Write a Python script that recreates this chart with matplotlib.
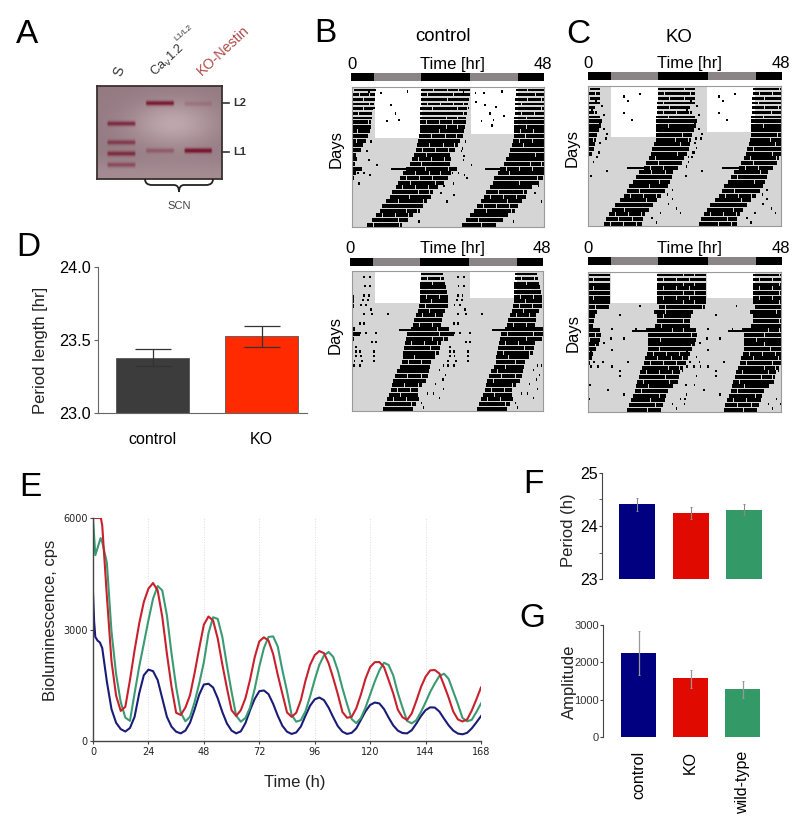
import numpy as np
import matplotlib
matplotlib.use("Agg")
import matplotlib.pyplot as plt
from matplotlib.path import Path
from matplotlib.patches import PathPatch

plt.rcParams['font.family'] = ['Liberation Sans', 'DejaVu Sans']
W, H = 800, 831

# ---------- panel D
D_GROUPS = ['control', 'KO']
D_VALUES = [23.38, 23.525]
D_LOW = [23.32, 23.455]
D_HIGH = [23.44, 23.595]

# ---------- panel E
TIME_H = list(range(4, 169, 2))
RED_T = [0, 2, 3.4]
RED_START = [6000, 6000, 6000]
RED = [5800, 3900, 2150, 1220, 810, 920, 1640, 2440, 3160, 3740, 4100, 4250, 4050, 3340, 2350, 1460, 760,
       700, 900, 1230, 1830, 2500, 3130, 3350, 3240, 2760, 2060, 1420, 830, 675,
       830, 1150, 1650, 2250, 2680, 2790, 2700, 2340, 1780, 1270, 770, 650,
       760, 1100, 1620, 2050, 2310, 2420, 2365, 2095, 1695, 1260, 780, 625,
       650, 880, 1250, 1680, 1990, 2120, 2125, 1990, 1640, 1280, 840, 640, 565,
       740, 1080, 1450, 1730, 1900, 1910, 1815, 1500, 1165, 790, 580, 525, 580, 820, 1120, 1440]
GREEN_T = [0, 0.5, 1, 2, 3.3]
GREEN_START = [6000, 5500, 5000, 5200, 5460]
GREEN = [5350, 4800, 2950, 1800, 1050, 630, 540, 1280, 2000, 2620, 3250, 3830, 4170,
         4050, 3380, 2350, 1460, 760, 530, 650, 1050, 1550, 2120, 2900, 3330,
         3285, 2800, 2030, 1320, 680, 520, 620, 900, 1400, 2000, 2500, 2800,
         2815, 2540, 1905, 1340, 700, 520, 560, 800, 1200, 1650, 2050, 2300, 2395,
         2265, 1900, 1420, 995, 590, 480, 620, 900, 1250, 1600, 1900, 2105,
         2045, 1765, 1290, 900, 540, 475, 560, 780, 1040, 1320, 1550, 1750,
         1810, 1670, 1330, 990, 620, 530, 570, 780, 1010]
BLUE_T = [0, 0.5, 1, 2, 3]
BLUE_START = [4000, 3200, 2800, 2700, 2650]
BLUE = [2500, 1600, 860, 490, 320, 255, 350, 650, 1280, 1770, 1920, 1880, 1640, 1145, 650, 385, 250, 205,
        280, 490, 850, 1250, 1520, 1540, 1440, 1150, 780, 470, 280, 205,
        260, 480, 830, 1130, 1340, 1360, 1260, 1000, 680, 410, 250, 190,
        230, 390, 680, 950, 1120, 1170, 1100, 900, 640, 400, 250, 190,
        220, 340, 570, 800, 970, 1035, 1010, 860, 630, 420, 280, 215, 205,
        290, 470, 670, 830, 905, 900, 790, 600, 420, 280, 200, 180, 220, 340, 500, 670]

# ---------- panels F, G
GROUPS = ['control', 'KO', 'wild-type']
F_VALUES = [24.41, 24.24, 24.31]
F_LOW = [24.29, 24.13, 24.20]
F_HIGH = [24.53, 24.35, 24.42]
G_VALUES = [2245, 1567, 1282]
G_LOW = [1650, 1310, 1040]
G_HIGH = [2840, 1790, 1505]

# ---------- panel A
S_BANDS = [370, 427, 461, 495]
LANE2_BANDS = [308, 452]
LANE3_BANDS = [310, 452]
S_STRENGTH = [0.85, 0.7, 0.85, 0.55]
LANE2_STRENGTH = [1.0, 0.4]
LANE3_STRENGTH = [0.2, 1.15]

# ---------- actograms: one row per day, activity onset and offset in hours
B1_ON = [17.3, 17.3, 17.2, 17.2, 17.1, 17.1, 17.0, 17.0, 17.0, 16.9, 16.8, 16.6, 16.3, 16.0, 15.6, 15.0, 14.4, 13.4,
         12.8, 12.0, 11.6, 11.0, 10.0, 9.4, 8.6, 7.6, 7.0, 6.0, 5.0, 3.8]
B1_OFF = [29.7, 29.6, 29.4, 29.2, 29.0, 28.8, 28.7, 28.6, 28.4, 28.2, 27.8, 27.2, 26.6, 26.0, 24.7, 25.0, 24.6, 26.3,
          24.8, 24.2, 23.2, 21.6, 20.3, 20.0, 19.0, 18.0, 17.2, 15.5, 14.2, 12.6]
B2_ON = [17.3, 17.3, 17.2, 17.2, 17.1, 17.1, 17.0, 16.9, 16.5, 16.1, 15.6, 15.3, 14.8, 13.9, 13.6, 13.3, 13.1, 12.9,
         12.7, 12.5, 12.0, 11.4, 10.9, 10.4, 10.1, 9.8, 9.2, 8.8, 8.3, 7.9]
B2_OFF = [23.1, 23.3, 23.5, 23.8, 24.0, 24.2, 24.2, 24.2, 23.5, 22.9, 22.7, 22.5, 24.6, 25.8, 24.2, 22.5, 22.3, 22.1,
          21.0, 20.0, 19.8, 19.6, 19.2, 18.8, 17.8, 16.7, 16.8, 16.9, 16.2, 15.4]
C1_ON = [17.4, 17.4, 17.3, 17.2, 17.2, 17.1, 17.0, 17.0, 17.0, 17.0, 16.9, 16.8, 16.4, 16.0, 15.6, 15.2, 14.5, 13.9,
         12.7, 12.0, 11.2, 10.3, 9.8, 8.9, 7.9, 6.8, 6.0, 5.2, 4.5, 3.9]
C1_OFF = [26.8, 26.8, 26.7, 26.8, 25.6, 26.0, 26.8, 27.2, 27.0, 26.5, 26.0, 25.8, 25.6, 25.2, 24.8, 24.0, 23.5, 22.5,
          21.4, 21.0, 20.6, 20.0, 19.3, 18.2, 17.2, 16.2, 15.2, 14.4, 13.7, 13.5]
C2_ON = [17.1, 17.1, 17.1, 17.1, 17.1, 17.1, 17.1, 17.7, 16.3, 17.2, 17.1, 16.7, 14.4, 15.0, 15.0, 15.0, 14.8, 14.6,
         14.2, 13.9, 13.4, 12.9, 12.6, 12.2, 12.0, 11.7, 11.1, 10.6, 10.2, 9.8]
C2_OFF = [29.6, 29.6, 29.6, 29.6, 29.5, 29.5, 29.4, 29.2, 26.3, 25.8, 25.6, 25.4, 27.0, 27.2, 27.0, 26.7, 26.0, 25.4,
          25.0, 24.6, 23.8, 23.0, 22.8, 22.5, 21.2, 20.0, 19.6, 19.2, 18.8, 18.3]

B1_SPOT_H = [4.3, 5.5, 7.3, 9.7, 13.9, 10.9, 11.8, 8.8, 4.8, 4.3, 1.5, 3.0, 4.5, 1.8, 6.3, 3.8, 28, 27.6, 28.8, 23, 23.8,
             25.5, 22.2, 15.5, 16.8, 1, 0.5, 2.5, 33, 36, 38, 31, 35]
B1_SPOT_R = [0.7, 4.3, 1, 3.6, 0.7, 5.4, 6.8, 7.1, 11.4, 15.4, 18.2, 18.2, 18.6, 20.4, 16.4, 13.4, 14.6, 12.9, 19.3, 21, 24.3,
             22.9, 22.5, 25.4, 28.6, 10, 15, 12, 1, 4, 6, 3, 8]
B2_SPOT_H = [3, 4.5, 3.2, 4.6, 3, 4.2, 0.3, 2.8, 4, 0.3, 2.2, 3.5, 4.8, 3, 5, 2, 3, 0.5, 2, 3.5, 6, 5, 1, 6, 1, 2, 5.5, 1, 2.2,
             5.5, 0.6, 2.5, 5.5, 0.5, 2, 23, 24, 22, 22.8, 23.5, 21, 23, 20.5, 22, 17.5, 18, 19, 9]
B2_SPOT_R = [1, 1, 3, 3, 5, 5, 6, 6, 6, 7, 7, 7, 8, 9, 9, 11, 11, 13, 13, 13, 13, 15, 16, 15, 17, 17, 17, 18, 18,
             18, 19, 19, 19, 20, 20, 20, 20, 21, 23, 22, 24, 25, 26, 27, 28, 29, 26, 9]
C1_SPOT_H = [2, 3.5, 1, 4, 1, 2.5, 3, 4, 1, 4.8, 1, 4.5, 3, 2.7, 2.2, 1.4, 4.8, 0.8, 27, 27.5, 26.8, 27, 26, 25, 24.5, 21,
             19.8, 21, 22, 23, 20, 18, 17, 16, 9, 10, 9, 11, 13]
C1_SPOT_R = [3, 4, 5, 6, 7, 7, 8, 9, 9, 10, 10, 11, 12, 14, 15, 16, 18, 19, 7, 9, 11, 13, 14, 15, 17, 22,
             23, 24, 26, 27, 25, 27, 29, 28, 2, 3, 5.5, 7, 1.5]
C2_SPOT_H = [0.8, 1.5, 3.8, 0.7, 2.5, 6, 5.9, 4, 5.7, 6, 9, 12, 13, 8, 2, 27, 28, 27, 26.5, 24.5, 23, 22, 24, 21, 19, 23.5,
             10, 8, 0.5, 0.3, 5, 8, 9]
C2_SPOT_R = [17, 19, 19, 20, 20, 20, 16.5, 15, 14, 12, 14, 12, 7, 9, 15, 18, 20, 22, 24, 26, 27, 29, 28, 28, 25, 21,
             19, 21, 24, 27, 25, 22, 26]
# thin activity spurs: (row, first hour, last hour)
B1_SPUR = (17, 9.7, 13.6)
B2_SPUR = (12, 11.7, 15.0)
C1_SPUR = (17, 9.7, 14.0)
C2_SPUR = (12, 11.0, 14.5)
BRICK_EVEN = [3.1, 6.7, 9.4]
BRICK_ODD = [1.7, 5.0, 8.2, 10.8]


def px_axes(x0, y0, x1, y1):
    return fig.add_axes([x0 / W, 1 - y1 / H, (x1 - x0) / W, (y1 - y0) / H])


fig = plt.figure(figsize=(W / 100, H / 100), dpi=100)
ov = fig.add_axes([0, 0, 1, 1], zorder=5)
ov.set_xlim(0, W)
ov.set_ylim(H, 0)
ov.axis('off')
ov.patch.set_alpha(0)


def t(x, y, s, size=12, ha='center', va='baseline', **kw):
    ov.text(x, y, s, fontsize=size, ha=ha, va=va, **kw)


def ylabel(ax, s, x, y, size=12):
    ax.set_ylabel(s, fontsize=size, color='#222222', va='center')
    ax.yaxis.set_label_coords(x / W, 1 - y / H, transform=fig.transFigure)


for letter, x, y in [('A', 16, 43), ('B', 314, 42), ('C', 566, 43), ('D', 16, 256), ('E', 19, 496),
                     ('F', 523, 493), ('G', 519, 627)]:
    t(x, y, letter, size=24, ha='left')

# ---------- A: gel
gel_ax = px_axes(97, 86, 222, 179)
gx = np.linspace(290, 667, 190)
gy = np.linspace(257, 537, 140)
X, Y = np.meshgrid(gx, gy)
light = 0.5 * np.exp(-((X - 520) / 130) ** 2 - ((Y - 370) / 70) ** 2) + 0.2 * np.exp(-((Y - 530) / 50) ** 2)
strength = np.zeros_like(X)
for lane, ys, ss in [((318, 408), S_BANDS, S_STRENGTH), ((435, 525), LANE2_BANDS, LANE2_STRENGTH),
                     ((552, 640), LANE3_BANDS, LANE3_STRENGTH)]:
    mask = np.clip((X - lane[0]) / 6, 0, 1) * np.clip((lane[1] - X) / 6, 0, 1)
    for yy, ss1 in zip(ys, ss):
        strength += ss1 * mask * np.exp(-((Y - yy) / 7) ** 2)
base = np.array([148, 122, 130])[None, None, :] + light[:, :, None] * np.array([85, 90, 88])[None, None, :]
band = np.array([120, 25, 50])[None, None, :]
a = np.clip(strength, 0, 1)[:, :, None]
img = (base * (1 - a) + band * a) / 255
gel_ax.imshow(np.clip(img, 0, 1), aspect='auto', interpolation='bilinear')
gel_ax.set_xticks([])
gel_ax.set_yticks([])
for s in gel_ax.spines.values():
    s.set_color('#3a3030')
    s.set_linewidth(1.3)

t(119, 71, 'S', size=10, rotation=70, va='center', color='#333333')
t(155, 77, 'Ca$_{\\mathrm{v}}$1.2', size=9.2, ha='left', rotation=43, rotation_mode='anchor', color='#333333')
t(176, 41, 'L1/L2', size=6, ha='left', rotation=40, rotation_mode='anchor', color='#333333')
t(202, 76, 'KO-Nestin', size=10.3, ha='left', rotation=43, rotation_mode='anchor', color='#B04A4A')
for lab, yy in [('L2', 103), ('L1', 152)]:
    ov.plot([222, 229], [yy, yy], color='#333333', lw=1.2)
    t(233, yy, lab, size=8, ha='left', va='center', fontweight='bold', color='#333333')
t(179, 206, 'SCN', size=8, va='center', color='#444444')
brace = Path([(145, 179), (145, 185), (152, 185), (174, 185), (179, 185), (179, 192),
              (179, 185), (184, 185), (206, 185), (213, 185), (213, 179)],
             [Path.MOVETO, Path.CURVE3, Path.CURVE3, Path.LINETO, Path.CURVE3, Path.CURVE3,
              Path.CURVE3, Path.CURVE3, Path.LINETO, Path.CURVE3, Path.CURVE3])
ov.add_patch(PathPatch(brace, fill=False, color='#222222', lw=1.3))


# ---------- actograms
def actogram(box, bar, edges, on, off, spot_h, spot_r, spur, shift, white_rows, text_base, centers):
    x0, y0, x1, y1 = box
    ax = px_axes(x0, y0, x1, y1)
    ax.set_xlim(0, 48)
    ax.set_ylim(30, 0)
    ax.set_facecolor('#D5D5D5')
    ax.set_xticks([])
    ax.set_yticks([])
    for s in ax.spines.values():
        s.set_color('#9a9a9a')
        s.set_linewidth(0.8)
    ax.fill_between([edges[1], edges[2]], 0, white_rows[0], color='white', lw=0)
    ax.fill_between([edges[3], edges[4]], 0, white_rows[1], color='white', lw=0)
    for row, (a0, b0) in enumerate(zip(on, off)):
        steps = BRICK_EVEN if row % 2 == 0 else BRICK_ODD
        cuts = [a0] + [a0 + c for c in steps if a0 + c < b0 - 0.5] + [b0]
        segs = [(cuts[i], cuts[i + 1] - cuts[i] - 0.14) for i in range(len(cuts) - 1)]
        tall = 0.62 if row < white_rows[0] - 4 else 0.86
        for sh in (-shift, 0, shift):
            ax.broken_barh([(p + sh, w) for p, w in segs], (row + 0.95 - tall, tall), facecolor='black', lw=0)
    for sh in (0, shift):
        ax.bar(np.array(spot_h) + sh, 0.5, width=0.42, bottom=np.array(spot_r), color='black', lw=0)
        ax.broken_barh([(spur[1] + sh, spur[2] - spur[1])], (spur[0] + 0.45, 0.35), facecolor='black', lw=0)
    bx = px_axes(bar[0], bar[1], bar[2], bar[3])
    bx.set_xlim(0, 48)
    bx.set_ylim(0, 1)
    bx.axis('off')
    cols = ['black', '#8a8486', 'black', '#8a8486', 'black']
    for i, c in enumerate(cols):
        bx.barh(0.5, edges[i + 1] - edges[i], left=edges[i], height=1, color=c, lw=0)
    t(centers[0], text_base, '0', size=12)
    t(centers[1], text_base, 'Time [hr]', size=12)
    t(centers[2], text_base, '48', size=12)


EDGES = [0, 5.7, 17.4, 29.7, 41.5, 48]
actogram((352, 87, 544, 227), (351, 73, 544, 81), EDGES, B1_ON, B1_OFF, B1_SPOT_H, B1_SPOT_R, B1_SPUR, 23.6, (11, 10), 69, (352, 452, 543))
actogram((352, 271, 543, 411), (350, 258, 543, 266), EDGES, B2_ON, B2_OFF, B2_SPOT_H, B2_SPOT_R, B2_SPUR, 23.6, (6.9, 5.8), 253, (350, 452, 542))
actogram((588, 86, 781, 226), (588, 72, 782, 80), EDGES, C1_ON, C1_OFF, C1_SPOT_H, C1_SPOT_R, C1_SPUR, 23.6, (11, 9.9), 68, (588, 689, 781))
actogram((588, 272, 781, 412), (588, 257, 782, 265), EDGES, C2_ON, C2_OFF, C2_SPOT_H, C2_SPOT_R, C2_SPUR, 23.9, (6.6, 5.6), 253, (588, 689, 781))
t(443, 41, 'control', size=13.4)
t(679, 42, 'KO', size=13.4)
for x, y in [(336, 149), (335, 335), (572, 148), (573, 333)]:
    t(x, y, 'Days', size=12, rotation=90, va='center')

# ---------- D
axd = px_axes(98, 267, 307, 413)
axd.set_xlim(98, 307)
axd.set_ylim(23, 24)
d_pos = [152.5, 261.5]
axd.bar(d_pos, np.array(D_VALUES) - 23, width=73, bottom=23, color=['#3C3C3C', '#FF2A00'], edgecolor='#555555', lw=0.6)
axd.errorbar(d_pos, D_VALUES, yerr=[np.array(D_VALUES) - D_LOW, np.array(D_HIGH) - D_VALUES], fmt='none',
             ecolor='#333333', elinewidth=0.9, capsize=13.3, capthick=0.9)
axd.set_xticks(d_pos, D_GROUPS, fontsize=11.5)
axd.tick_params(axis='x', length=0, pad=14)
axd.set_yticks([23, 23.5, 24], ['23.0', '23.5', '24.0'], fontsize=11.7)
axd.tick_params(axis='y', length=3, color='#666666', pad=2)
axd.spines[['top', 'right']].set_visible(False)
axd.spines[['left', 'bottom']].set_color('#666666')
ylabel(axd, 'Period length [hr]', 40, 350)

# ---------- E
axe = px_axes(93, 518, 481, 741)
axe.set_xlim(0, 168)
axe.set_ylim(0, 6000)
for v in [24, 48, 72, 96, 120, 144, 168]:
    axe.axvline(v, color='#dddddd', lw=0.7, ls=':', zorder=0)
axe.plot(BLUE_T + TIME_H, BLUE_START + BLUE, color='#1B1B78', lw=1.5)
axe.plot(GREEN_T + TIME_H, GREEN_START + GREEN, color='#3A9B72', lw=1.5)
axe.plot(RED_T + TIME_H, RED_START + RED, color='#C8202C', lw=1.5)
axe.set_xticks([0, 24, 48, 72, 96, 120, 144, 168])
axe.set_yticks([0, 3000, 6000])
axe.tick_params(labelsize=7, length=2, width=0.8, pad=2, color='#444444', labelcolor='#222222')
for lab in axe.get_xticklabels() + axe.get_yticklabels():
    lab.set_family('DejaVu Sans')
axe.spines[['top', 'right']].set_visible(False)
axe.spines[['left', 'bottom']].set_color('#444444')
axe.spines[['left', 'bottom']].set_linewidth(1.0)
ylabel(axe, 'Bioluminescence, cps', 51, 620)
axe.set_xlabel('Time (h)', fontsize=12, color='#222222')
axe.xaxis.set_label_coords(295 / W, 1 - 783 / H, transform=fig.transFigure)
axe.xaxis.label.set_va('center')

# ---------- F
COLORS = ['#000080', '#E00A00', '#339966']
axf = px_axes(602, 473, 770, 579)
axf.set_xlim(602, 770)
axf.set_ylim(23, 25)
f_pos = [637, 691, 744]
axf.bar(f_pos, np.array(F_VALUES) - 23, width=36, bottom=23, color=COLORS, lw=0)
axf.errorbar(f_pos, F_VALUES, yerr=[np.array(F_VALUES) - F_LOW, np.array(F_HIGH) - F_VALUES], fmt='none',
             ecolor='#8a8a8a', elinewidth=0.8, capsize=1, capthick=0.7)
axf.set_xticks([])
axf.set_yticks([23, 24, 25])
axf.set_yticks([23.5, 24.5], minor=True)
axf.tick_params(axis='y', which='both', labelsize=11.5, length=2, pad=1, color='#444444')
axf.spines[['top', 'right', 'bottom']].set_visible(False)
axf.spines['left'].set_color('#444444')
ylabel(axf, 'Period (h)', 568, 530)

# ---------- G
axg = px_axes(603, 625, 770, 737)
axg.set_xlim(603, 770)
axg.set_ylim(0, 3000)
g_pos = [638.5, 690.5, 742.5]
axg.bar(g_pos, G_VALUES, width=35, color=COLORS, lw=0)
axg.errorbar(g_pos, G_VALUES, yerr=[np.array(G_VALUES) - G_LOW, np.array(G_HIGH) - G_VALUES], fmt='none',
             ecolor='#999999', elinewidth=0.9, capsize=1, capthick=0.7)
axg.set_yticks([0, 1000, 2000, 3000])
axg.tick_params(axis='y', labelsize=8, length=2, pad=1, color='#444444', labelcolor='#333333')
axg.set_xticks(g_pos, GROUPS, rotation=90, fontsize=11.5)
axg.tick_params(axis='x', length=0, pad=10)
axg.spines[['top', 'right', 'bottom']].set_visible(False)
axg.spines['left'].set_color('#444444')
ylabel(axg, 'Amplitude', 569, 682)

fig.savefig('out.png', dpi=100)
